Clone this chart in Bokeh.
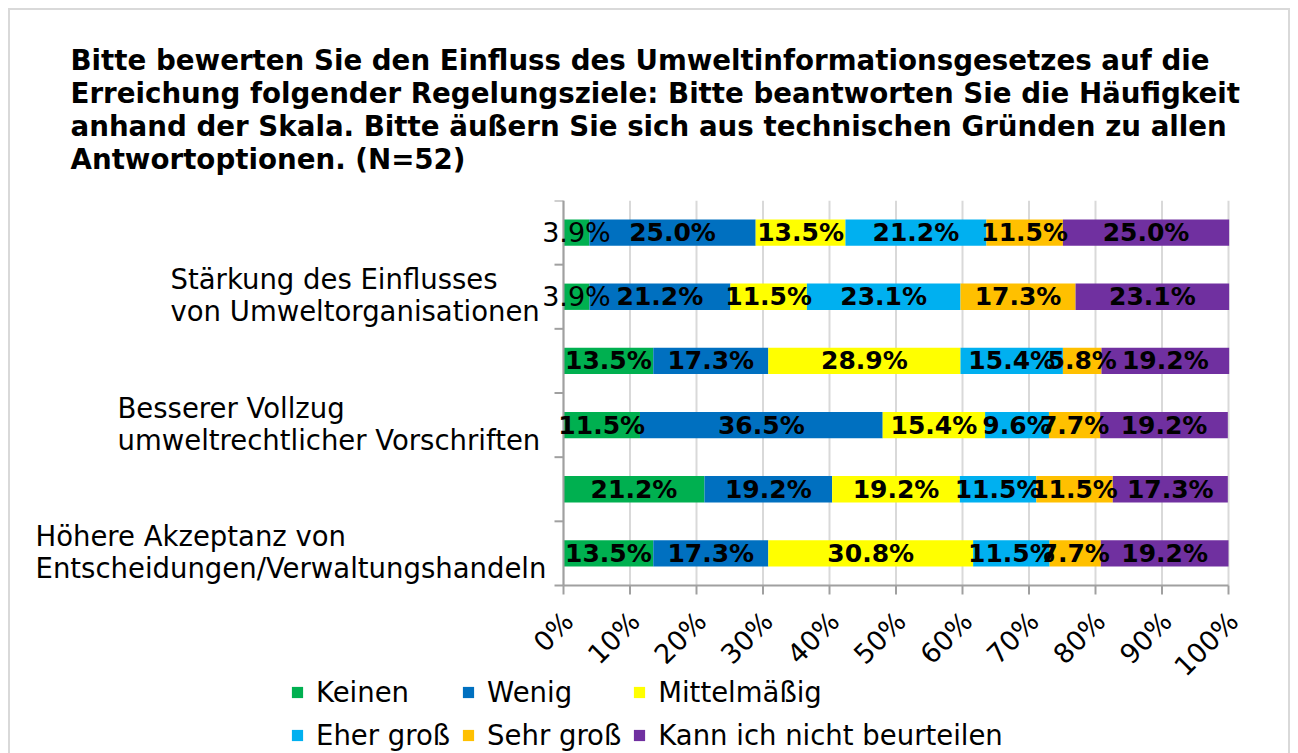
from bokeh.plotting import figure
from bokeh.models import (ColumnDataSource, Label, LabelSet, Legend, LegendItem, Range1d)
from bokeh.core.properties import value
from bokeh.embed import file_html
from bokeh.resources import INLINE
import math

# ---------------- data ----------------
categories = [
    "",
    "Stärkung des Einflusses\nvon Umweltorganisationen",
    "",
    "Besserer Vollzug\numweltrechtlicher Vorschriften",
    "",
    "Höhere Akzeptanz von\nEntscheidungen/Verwaltungshandeln",
]
series_names = ["Keinen", "Wenig", "Mittelmäßig", "Eher groß", "Sehr groß",
                "Kann ich nicht beurteilen"]
keinen = [3.9, 3.9, 13.5, 11.5, 21.2, 13.5]
wenig = [25.0, 21.2, 17.3, 36.5, 19.2, 17.3]
mittel = [13.5, 11.5, 28.9, 15.4, 19.2, 30.8]
eher_gross = [21.2, 23.1, 15.4, 9.6, 11.5, 11.5]
sehr_gross = [11.5, 17.3, 5.8, 7.7, 11.5, 7.7]
kann_nicht = [25.0, 23.1, 19.2, 19.2, 17.3, 19.2]
x_ticks = [0, 10, 20, 30, 40, 50, 60, 70, 80, 90, 100]
x_tick_labels = ["0%", "10%", "20%", "30%", "40%", "50%", "60%", "70%", "80%", "90%", "100%"]
title_text = ("Bitte bewerten Sie den Einfluss des Umweltinformationsgesetzes auf die\n"
              "Erreichung folgender Regelungsziele: Bitte beantworten Sie die Häufigkeit\n"
              "anhand der Skala. Bitte äußern Sie sich aus technischen Gründen zu allen\n"
              "Antwortoptionen. (N=52)")

colors = ["#00B050", "#0070C0", "#FFFF00", "#00B0F0", "#FFC000", "#7030A0"]
values = [keinen, wenig, mittel, eher_gross, sehr_gross, kann_nicht]
keys = ["s0", "s1", "s2", "s3", "s4", "s5"]

n = len(categories)
ypos = [n - 0.5 - i for i in range(n)]

data = {"y": ypos}
for k, v in zip(keys, values):
    data[k] = v
source = ColumnDataSource(data)

# ---------------- layout constants (pixels) ----------------
FONT = "DejaVu Sans"
W, H = 1298, 753
AXIS_PX = 563          # x of the 0 % line
FULL_PX = 1228         # x of the 100 % line
TOP_PX = 200           # top of plotting area
BOTTOM_PX = 585        # bottom of plotting area (x axis)
PX_PER_PCT = (FULL_PX - AXIS_PX) / 100.0
PX_PER_ROW = (BOTTOM_PX - TOP_PX) / n
x_start = -AXIS_PX / PX_PER_PCT
x_end = (W - AXIS_PX) / PX_PER_PCT
y_start = -(H - BOTTOM_PX) / PX_PER_ROW

p = figure(width=W, height=H, output_backend="svg", toolbar_location=None,
           x_range=Range1d(x_start, x_end), y_range=Range1d(y_start, n),
           x_axis_location=None, y_axis_location=None,
           min_border_left=0, min_border_right=0, min_border_top=TOP_PX,
           min_border_bottom=0)
BORDER = "linear-gradient(#d9d9d9, #d9d9d9)"
p.styles = {
    "background-image": f"{BORDER}, {BORDER}, {BORDER}",
    "background-position": "8px 8px, 8px 8px, 1288px 8px",
    "background-size": "2px 100%, 1282px 2px, 2px 100%",
    "background-repeat": "no-repeat",
}
p.outline_line_color = None
p.background_fill_color = None
p.border_fill_color = None
p.grid.visible = False

AX_COL = "#a0a0a0"
GRID_COL = "#d9d9d9"
x0, x1 = x_ticks[0], x_ticks[-1]

# vertical grid lines
p.segment(x0=x_ticks, y0=[0] * len(x_ticks), x1=x_ticks, y1=[n] * len(x_ticks),
          line_color=GRID_COL, line_width=2)

# bars
renderers = p.hbar_stack(keys, y="y", height=0.41, color=colors, line_color=None,
                         source=source)

# axes lines and ticks
p.segment(x0=[x0, x0], y0=[0, 0], x1=[x1, x0], y1=[0, n], line_color=AX_COL, line_width=2)
p.ray(x=x_ticks, y=[0] * len(x_ticks), length=9, length_units="screen",
      angle=-math.pi / 2, line_color=AX_COL, line_width=2)
p.ray(x=[x0] * (n + 1), y=list(range(n + 1)), length=9, length_units="screen",
      angle=math.pi, line_color=AX_COL, line_width=2)

# x tick labels (rotated)
tick_src = ColumnDataSource(dict(x=x_ticks, y=[0] * len(x_ticks), t=x_tick_labels))
p.add_layout(LabelSet(x="x", y="y", text="t", source=tick_src, angle=math.pi / 4,
                      x_offset=5, y_offset=-31, text_align="right",
                      text_baseline="middle", text_font=value(FONT),
                      text_font_size=value("27px"), text_color="black"))

# data labels
lx, ly, lt, lbold = [], [], [], []
for i in range(n):
    left = 0.0
    for v in values:
        val = v[i]
        lx.append(left + val / 2.0)
        ly.append(ypos[i])
        lt.append(f"{val:.1f}%")
        lbold.append(val >= 5)
        left += val
bold_src = ColumnDataSource(dict(x=[a for a, b in zip(lx, lbold) if b],
                                 y=[a for a, b in zip(ly, lbold) if b],
                                 t=[a for a, b in zip(lt, lbold) if b]))
norm_src = ColumnDataSource(dict(x=[a for a, b in zip(lx, lbold) if not b],
                                 y=[a for a, b in zip(ly, lbold) if not b],
                                 t=[a for a, b in zip(lt, lbold) if not b]))
p.add_layout(LabelSet(x="x", y="y", text="t", source=bold_src, text_align="center",
                      text_baseline="middle", text_font=value(FONT),
                      text_font_style=value("bold"), text_font_size=value("25px"),
                      text_color="black"))
p.add_layout(LabelSet(x="x", y="y", text="t", source=norm_src, text_align="center",
                      text_baseline="middle", text_font=value(FONT),
                      text_font_size=value("27px"), text_color="black"))

# category labels (left of axis, left-aligned lines)
cat_offsets = {1: -393, 3: -446, 5: -528}
for i, cat in enumerate(categories):
    if not cat:
        continue
    lines = cat.split("\n")
    for j, line in enumerate(lines):
        p.add_layout(Label(x=x0, y=ypos[i], text=line, x_offset=cat_offsets[i],
                           y_offset=17.5 - 32 * j, text_align="left",
                           text_baseline="alphabetic", text_font=FONT,
                           text_font_size="27.5px", text_color="black"))

# title
p.title.text = title_text
p.title.align = "left"
p.title.offset = 70
p.title.text_font = FONT
p.title.text_font_style = "bold"
p.title.text_font_size = "27.7px"
p.title.text_color = "black"
p.title.text_line_height = 1.0
p.title.standoff = 49

# legend
items = [LegendItem(label=name, renderers=[r]) for name, r in zip(series_names, renderers)]
legend = Legend(items=items, location=(290, 2), orientation="horizontal", ncols=3,
                label_text_font=FONT, label_text_font_size="27.5px", label_text_color="black",
                glyph_width=14, glyph_height=14, label_standoff=12, spacing=11,
                label_height=31, padding=0, margin=0, border_line_color=None,
                background_fill_alpha=0)
p.add_layout(legend, "center")

open("out.html", "w").write(file_html(p, INLINE))
